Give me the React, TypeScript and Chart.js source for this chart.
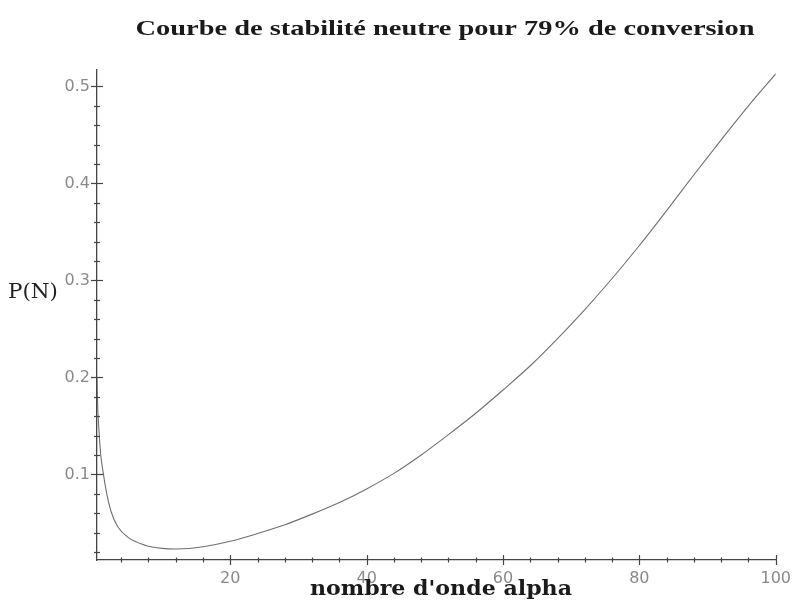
import React, { useEffect, useRef } from "react";
import { Chart, registerables } from "chart.js";

Chart.register(...registerables);

// Wave number alpha (x) and neutral stability P(N) (y)
const alphaValues = [
  0.45, 0.55, 0.7, 1.0, 1.4, 1.8, 2.5, 3.5, 5, 7.5, 10, 12, 14, 16, 20, 24, 28,
  32, 36, 40, 44, 48, 52, 56, 60, 64, 68, 72, 76, 80, 84, 88, 92, 96, 100,
];
const pValues = [
  0.2, 0.17, 0.15, 0.12, 0.1, 0.083, 0.062, 0.046, 0.035, 0.027, 0.0237,
  0.023, 0.0235, 0.0253, 0.031, 0.039, 0.048, 0.059, 0.071, 0.085, 0.101,
  0.12, 0.141, 0.163, 0.187, 0.212, 0.24, 0.27, 0.302, 0.336, 0.372, 0.409,
  0.445, 0.48, 0.513,
];

const xMajorTicks = [20, 40, 60, 80, 100];
const yMajorTicks = [0.1, 0.2, 0.3, 0.4, 0.5];
const xMinorStep = 4;
const yMinorStep = 0.02;

const titleText = "Courbe de stabilité neutre pour 79% de conversion";
const xLabelText = "nombre d'onde alpha";
const yLabelText = "P(N)";

const X_MIN = 0.45;
const X_MAX = 100;
const Y_MIN = 0.0117;
const Y_MAX = 0.517;

function drawFitted(
  ctx: CanvasRenderingContext2D,
  text: string,
  font: string,
  cx: number,
  baseline: number,
  width: number,
  color: string
) {
  ctx.save();
  ctx.font = font;
  const w = ctx.measureText(text).width;
  const sx = width / w;
  ctx.translate(cx, baseline);
  ctx.scale(sx, 1);
  ctx.fillStyle = color;
  ctx.textAlign = "center";
  ctx.textBaseline = "alphabetic";
  ctx.fillText(text, 0, 0);
  ctx.restore();
}

const decorPlugin = {
  id: "decor",
  afterDraw(chart: any) {
    const ctx: CanvasRenderingContext2D = chart.ctx;
    const xs = chart.scales.x;
    const ys = chart.scales.y;
    const area = chart.chartArea;
    ctx.save();
    ctx.strokeStyle = "#444";
    ctx.lineWidth = 1.2;
    for (let v = xMinorStep; v <= X_MAX + 1e-9; v += xMinorStep) {
      const major = xMajorTicks.some((m) => Math.abs(m - v) < 1e-6);
      const px = Math.round(xs.getPixelForValue(v)) + 0.5;
      const half = major ? 5 : 2.5;
      ctx.beginPath();
      ctx.moveTo(px, area.bottom - half);
      ctx.lineTo(px, area.bottom + half);
      ctx.stroke();
    }
    for (let v = yMinorStep; v <= Y_MAX + 1e-9; v += yMinorStep) {
      const major = yMajorTicks.some((m) => Math.abs(m - v) < 1e-6);
      const py = Math.round(ys.getPixelForValue(v)) + 0.5;
      const half = major ? 6 : 3;
      ctx.beginPath();
      ctx.moveTo(area.left - half, py);
      ctx.lineTo(area.left + half, py);
      ctx.stroke();
    }
    ctx.restore();

    drawFitted(ctx, titleText, 'bold 21px "Liberation Serif"', 445, 35, 619, "#1a1a1a");
    drawFitted(ctx, xLabelText, 'bold 21px "DejaVu Serif"', 441, 595, 262, "#1a1a1a");
    drawFitted(ctx, yLabelText, '21px "DejaVu Serif"', 33, 298, 50, "#222");
  },
};

export default function App() {
  const canvasRef = useRef<HTMLCanvasElement | null>(null);

  useEffect(() => {
    document.body.style.margin = "0";
    const canvas = canvasRef.current;
    if (!canvas) return;
    const chart = new Chart(canvas, {
      type: "line",
      data: {
        datasets: [
          {
            data: alphaValues.map((x, i) => ({ x, y: pValues[i] })),
            borderColor: "#707070",
            borderWidth: 1.1,
            pointRadius: 0,
            cubicInterpolationMode: "monotone",
            fill: false,
          },
        ],
      },
      options: {
        animation: false,
        responsive: false,
        maintainAspectRatio: false,
        layout: { padding: { top: 70, right: 18, left: 0, bottom: 0 } },
        plugins: {
          legend: { display: false },
          title: { display: false },
          tooltip: { enabled: false },
        },
        scales: {
          x: {
            type: "linear",
            min: X_MIN,
            max: X_MAX,
            afterBuildTicks: (s: any) => {
              s.ticks = xMajorTicks.map((v) => ({ value: v }));
            },
            afterFit: (s: any) => {
              s.height = 44;
            },
            grid: { display: false, drawTicks: false },
            border: { display: true, color: "#444", width: 1.3 },
            ticks: {
              color: "#8a8a8a",
              font: { family: "DejaVu Sans", size: 16 },
              padding: 9,
              maxRotation: 0,
              autoSkip: false,
              callback: (v: any) => String(v),
            },
          },
          y: {
            type: "linear",
            min: Y_MIN,
            max: Y_MAX,
            afterBuildTicks: (s: any) => {
              s.ticks = yMajorTicks.map((v) => ({ value: v }));
            },
            afterFit: (s: any) => {
              s.width = 97;
            },
            grid: { display: false, drawTicks: false },
            border: { display: true, color: "#444", width: 1.3 },
            ticks: {
              color: "#8a8a8a",
              font: { family: "DejaVu Sans", size: 16 },
              padding: 7,
              autoSkip: false,
              callback: (v: any) => Number(v).toFixed(1),
            },
          },
        },
      },
      plugins: [decorPlugin],
    });
    return () => chart.destroy();
  }, []);

  return (
    <div style={{ width: 800, height: 604, background: "#fff" }}>
      <canvas ref={canvasRef} width={800} height={604} />
    </div>
  );
}
